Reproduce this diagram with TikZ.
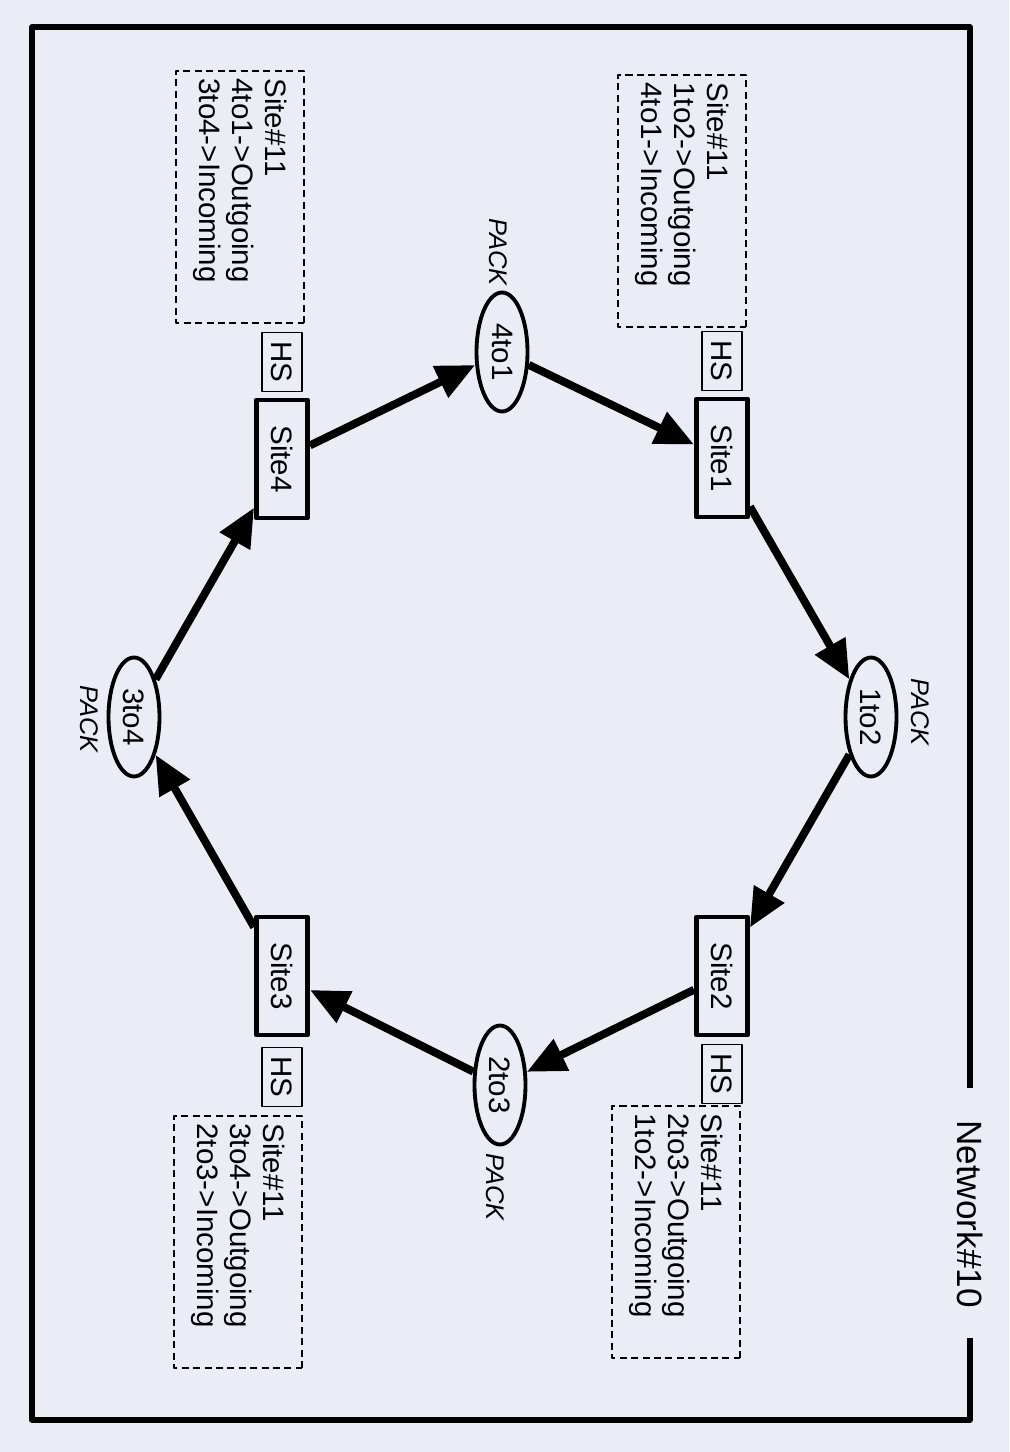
\documentclass[tikz,border=0pt]{standalone}
\usepackage{fontspec}
\setmainfont{Liberation Sans}
\usetikzlibrary{arrows.meta,shapes.geometric}
\definecolor{paper}{RGB}{234,237,246}

\begin{document}
\begin{tikzpicture}[x=0.02cm, y=-0.02cm, line join=round,
	font=\fontsize{16.8}{18.8}\selectfont,
	site/.style={draw, line width=2.8pt, rotate=-90, minimum width=2.36cm, minimum height=1.02cm, inner sep=0pt},
	hsbox/.style={draw, line width=0.9pt, rotate=-90, minimum width=1.18cm, minimum height=0.8cm, inner sep=0pt},
	pack/.style={draw, ellipse, line width=2.2pt, rotate=-90, minimum width=2.38cm, minimum height=1.02cm, inner sep=0pt},
	note/.style={draw, dash pattern=on 4pt off 2.5pt, line width=0.7pt, rotate=-90, minimum width=5.04cm, minimum height=2.56cm, text width=4.74cm, align=left, inner sep=0pt},
	tag/.style={rotate=-90, font=\fontsize{14.5}{16}\selectfont\itshape},
	arr/.style={line width=4.5pt, -{Triangle[length=22pt,width=19pt]}}]
	\fill[paper] (0,0) rectangle (1009,1452);
	\useasboundingbox (0,0) rectangle (1009,1452);
	
	% frame with the network name in its right side
	\draw[line width=3pt] (970,1088) -- (970,27) -- (32,27) -- (32,1420) -- (970,1420) -- (970,1338);
	\node[rotate=-90, font=\fontsize{20}{24}\selectfont] (net) at (970,1214) {Network\#10};
	
	\foreach \n/\x/\y/\hy in {1/722/458/361, 2/722/976/1074, 3/282/976/1077, 4/282/459/362}{
		\node[site] (s\n) at (\x,\y) {Site\n};
		\node[hsbox] (hs\n) at (\x,\hy) {HS};
	}
	
	\foreach \n/\t/\x/\y/\px/\py in {41/4to1/502/352/498/252, 12/1to2/871/717/920/712, 23/2to3/500/1085/495/1187, 34/3to4/134/717/89/719}{
		\node[pack] (p\n) at (\x,\y) {\t};
		\node[tag] (k\n) at (\px,\py) {PACK};
	}
	
	\node[note] (n1) at (682,201) {Site\#11\\1to2->Outgoing\\4to1->Incoming};
	\node[note] (n2) at (676,1232) {Site\#11\\2to3->Outgoing\\1to2->Incoming};
	\node[note] (n3) at (238,1242) {Site\#11\\3to4->Outgoing\\2to3->Incoming};
	\node[note] (n4) at (240,197) {Site\#11\\4to1->Outgoing\\3to4->Incoming};
	
	\foreach \a/\b in {s4/p41, p41/s1, s1/p12, p12/s2, s2/p23, p23/s3, s3/p34, p34/s4}
		\draw[arr] (\a) -- (\b);
\end{tikzpicture}
\end{document}
